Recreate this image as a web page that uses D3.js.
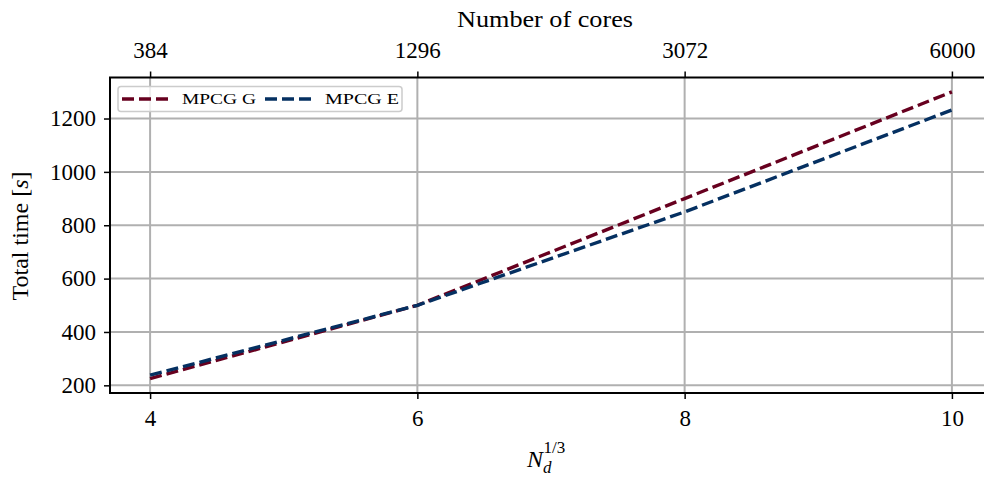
<!DOCTYPE html>
<html>
<head>
<meta charset="utf-8">
<script src="https://cdn.jsdelivr.net/npm/d3@7"></script>
<style>
  body { margin: 0; background: #fff; }
  svg { display: block; font-family: "Liberation Serif", "DejaVu Serif", serif; }
</style>
</head>
<body>
<div id="chart"></div>
<script>
// cube root of the number of domains
const nd = [4, 6, 8, 10];
// number of cores for the top axis
const coreLabels = ["384", "1296", "3072", "6000"];
// total time in seconds
const mpcgG = [225, 500, 900, 1300];
const mpcgE = [238, 500, 850, 1232];
const yTicks = [200, 400, 600, 800, 1000, 1200];

const series = [
    { name: "MPCG G", values: mpcgG, color: "#67001f" },
    { name: "MPCG E", values: mpcgE, color: "#053061" }
];

const width = 984, height = 481;
const margin = { left: 110, right: -8, top: 77.5, bottom: 88 };
const plotW = width - margin.left - margin.right;
const plotH = height - margin.top - margin.bottom;

const svg = d3.select("#chart").append("svg")
    .attr("width", width)
    .attr("height", height);

// matplotlib style 5% margins
const xPad = (d3.max(nd) - d3.min(nd)) * 0.05;
const allY = mpcgG.concat(mpcgE);
const yPad = (d3.max(allY) - d3.min(allY)) * 0.05;

const x = d3.scaleLinear()
    .domain([d3.min(nd) - xPad, d3.max(nd) + xPad])
    .range([0, plotW]);
const y = d3.scaleLinear()
    .domain([d3.min(allY) - yPad, d3.max(allY) + yPad])
    .range([plotH, 0]);

const g = svg.append("g").attr("transform", `translate(${margin.left},${margin.top})`);

// grid
g.append("g").selectAll("line").data(nd).enter().append("line")
    .attr("x1", d => x(d)).attr("x2", d => x(d))
    .attr("y1", 0).attr("y2", plotH)
    .attr("stroke", "#b0b0b0").attr("stroke-width", 2);
g.append("g").selectAll("line").data(yTicks).enter().append("line")
    .attr("x1", 0).attr("x2", plotW)
    .attr("y1", d => y(d)).attr("y2", d => y(d))
    .attr("stroke", "#b0b0b0").attr("stroke-width", 2);

// lines
const line = d3.line()
    .x((d, i) => x(nd[i]))
    .y(d => y(d));

series.forEach(s => {
    g.append("path")
        .datum(s.values)
        .attr("d", line)
        .attr("fill", "none")
        .attr("stroke", s.color)
        .attr("stroke-width", 3.4)
        .attr("stroke-dasharray", "12,5");
});

// axes
const fontSize = "23px";
const bottomAxis = d3.axisBottom(x).tickValues(nd).tickFormat(d3.format("d"))
    .tickSizeOuter(0).tickSizeInner(6).tickPadding(11);
const topAxis = d3.axisTop(x).tickValues(nd).tickFormat((d, i) => coreLabels[i])
    .tickSizeOuter(0).tickSizeInner(6).tickPadding(14);
const leftAxis = d3.axisLeft(y).tickValues(yTicks).tickFormat(d3.format("d"))
    .tickSizeOuter(0).tickSizeInner(6).tickPadding(8);

function styleAxis(sel) {
    sel.select(".domain").remove();
    sel.selectAll(".tick line").attr("stroke", "#000").attr("stroke-width", 1.5);
    sel.selectAll(".tick text").attr("fill", "#000")
        .style("font-family", "'Liberation Serif', serif")
        .style("font-size", fontSize);
}

g.append("g").attr("transform", `translate(0,${plotH})`).call(bottomAxis).call(styleAxis);
g.append("g").call(topAxis).call(styleAxis);
g.append("g").call(leftAxis).call(styleAxis);

// spines
g.append("rect")
    .attr("x", 0).attr("y", 0)
    .attr("width", plotW).attr("height", plotH)
    .attr("fill", "none").attr("stroke", "#000").attr("stroke-width", 2);

// legend
const leg = g.append("g").attr("transform", "translate(8,9)");
leg.append("rect")
    .attr("width", 284).attr("height", 25).attr("rx", 3)
    .attr("fill", "#fff").attr("fill-opacity", 0.8)
    .attr("stroke", "#cccccc").attr("stroke-width", 1.5);
const legItems = leg.selectAll("g.item").data(series).enter().append("g")
    .attr("class", "item")
    .attr("transform", (d, i) => `translate(${4 + i * 143},0)`);
legItems.append("line")
    .attr("x1", 0).attr("x2", 47)
    .attr("y1", 12.5).attr("y2", 12.5)
    .attr("stroke", d => d.color).attr("stroke-width", 3.4)
    .attr("stroke-dasharray", "12,5");
legItems.append("text")
    .attr("x", 60).attr("y", 17.5)
    .attr("font-size", "14px")
    .attr("textLength", 74).attr("lengthAdjust", "spacingAndGlyphs")
    .text(d => d.name);

// axis titles
svg.append("text")
    .attr("x", 545).attr("y", 27)
    .attr("text-anchor", "middle")
    .attr("font-size", "23px")
    .attr("textLength", 176).attr("lengthAdjust", "spacingAndGlyphs")
    .text("Number of cores");

const yl = svg.append("text")
    .attr("transform", "translate(28,236) rotate(-90)")
    .attr("text-anchor", "middle")
    .attr("font-size", "24px");
yl.append("tspan").text("Total time [");
yl.append("tspan").attr("font-style", "italic").text("s");
yl.append("tspan").text("]");

const xl = svg.append("text")
    .attr("x", 527).attr("y", 467)
    .attr("font-size", "24px");
xl.append("tspan").attr("font-style", "italic").text("N");
xl.append("tspan").attr("font-style", "italic").attr("font-size", "17px").attr("dy", 6).text("d");
xl.append("tspan").attr("font-size", "17px").attr("dx", -8).attr("dy", -20).text("1/3");
</script>
</body>
</html>
